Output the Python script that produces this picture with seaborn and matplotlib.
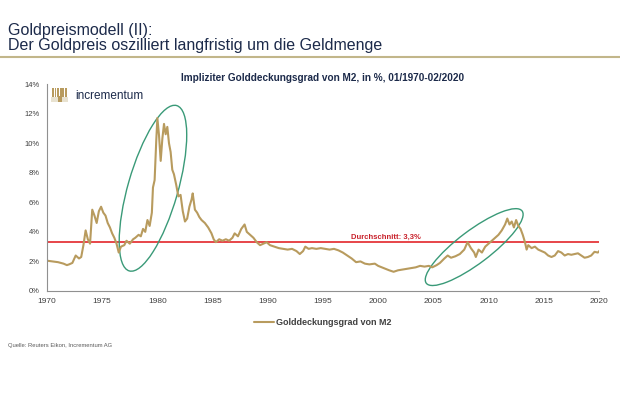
import numpy as np
import pandas as pd
import matplotlib
matplotlib.use("Agg")
import matplotlib.pyplot as plt
import matplotlib.transforms as mtransforms
from matplotlib.patches import Ellipse, Rectangle
import seaborn as sns

# Golddeckungsgrad von M2 (in %)
years = [1970.0, 1970.5, 1971.0, 1971.5, 1971.8, 1972.0, 1972.3, 1972.6, 1972.9, 1973.1,
         1973.3, 1973.5, 1973.7, 1973.9, 1974.0, 1974.1, 1974.3, 1974.5, 1974.7, 1974.9,
         1975.1, 1975.3, 1975.5, 1975.7, 1975.9, 1976.1, 1976.3, 1976.5, 1976.7, 1977.0,
         1977.2, 1977.5, 1977.8, 1978.0, 1978.3, 1978.5, 1978.7, 1978.9, 1979.1, 1979.3,
         1979.5, 1979.6, 1979.75, 1979.9, 1980.0, 1980.15, 1980.3, 1980.45, 1980.6, 1980.75,
         1980.9, 1981.05, 1981.2, 1981.35, 1981.5, 1981.7, 1981.9, 1982.1, 1982.3, 1982.5,
         1982.7, 1982.9, 1983.1, 1983.2, 1983.4, 1983.6, 1983.8, 1984.0, 1984.3, 1984.6,
         1984.9, 1985.1, 1985.3, 1985.6, 1985.9, 1986.2, 1986.5, 1986.8, 1987.0, 1987.3,
         1987.6, 1987.9, 1988.1, 1988.4, 1988.7, 1989.0, 1989.3, 1989.6, 1989.9, 1990.2,
         1990.6, 1991.0, 1991.4, 1991.8, 1992.2, 1992.6, 1992.9, 1993.2, 1993.4, 1993.7,
         1994.0, 1994.4, 1994.8, 1995.2, 1995.6, 1996.0, 1996.4, 1996.8, 1997.2, 1997.6,
         1998.0, 1998.4, 1998.8, 1999.2, 1999.7, 2000.0, 2000.5, 2001.0, 2001.4, 2001.8,
         2002.2, 2002.6, 2003.0, 2003.4, 2003.8, 2004.2, 2004.6, 2004.9, 2005.3, 2005.6,
         2006.0, 2006.3, 2006.6, 2007.0, 2007.4, 2007.8, 2008.1, 2008.4, 2008.7, 2008.85,
         2009.1, 2009.4, 2009.7, 2010.0, 2010.3, 2010.6, 2010.9, 2011.2, 2011.5, 2011.7,
         2011.9, 2012.1, 2012.3, 2012.5, 2012.7, 2012.9, 2013.1, 2013.3, 2013.45, 2013.6,
         2013.9, 2014.2, 2014.5, 2014.8, 2015.1, 2015.4, 2015.7, 2016.0, 2016.3, 2016.6,
         2016.9, 2017.2, 2017.5, 2017.8, 2018.1, 2018.4, 2018.7, 2019.0, 2019.3, 2019.6,
         2019.9, 2020.1]
coverage = [2.05, 2.0, 1.95, 1.85, 1.75, 1.8, 1.9, 2.4, 2.2, 2.3,
            3.1, 4.1, 3.5, 3.2, 4.4, 5.5, 5.1, 4.6, 5.4, 5.7,
            5.3, 5.1, 4.6, 4.3, 3.9, 3.6, 3.2, 2.6, 3.0, 3.1,
            3.4, 3.2, 3.5, 3.6, 3.8, 3.7, 4.2, 4.0, 4.8, 4.4,
            5.3, 7.0, 7.5, 10.2, 11.7, 10.5, 8.8, 10.3, 11.3, 10.6,
            11.1, 10.0, 9.4, 8.2, 7.9, 7.2, 6.4, 6.5, 5.4, 4.7,
            4.9, 5.7, 6.2, 6.6, 5.5, 5.3, 5.0, 4.8, 4.6, 4.3,
            3.9, 3.5, 3.3, 3.5, 3.4, 3.5, 3.4, 3.6, 3.9, 3.7,
            4.2, 4.5, 4.0, 3.8, 3.6, 3.3, 3.1, 3.2, 3.3, 3.1,
            3.0, 2.9, 2.85, 2.8, 2.85, 2.7, 2.5, 2.7, 3.0, 2.85,
            2.9, 2.85, 2.9, 2.85, 2.8, 2.85, 2.75, 2.6, 2.4, 2.2,
            1.95, 2.0, 1.85, 1.8, 1.85, 1.7, 1.55, 1.4, 1.3, 1.4,
            1.45, 1.5, 1.55, 1.6, 1.7, 1.65, 1.7, 1.6, 1.75, 1.9,
            2.2, 2.4, 2.25, 2.35, 2.5, 2.8, 3.3, 2.9, 2.6, 2.3,
            2.8, 2.6, 3.0, 3.2, 3.4, 3.6, 3.8, 4.1, 4.5, 4.9,
            4.5, 4.7, 4.3, 4.8, 4.4, 4.2, 3.8, 3.3, 2.8, 3.1,
            2.9, 3.0, 2.8, 2.7, 2.6, 2.4, 2.3, 2.4, 2.7, 2.6,
            2.4, 2.5, 2.45, 2.5, 2.55, 2.4, 2.25, 2.3, 2.4, 2.65,
            2.6, 2.75]
average = 3.3
x_ticks = [1970, 1975, 1980, 1985, 1990, 1995, 2000, 2005, 2010, 2015, 2020]
y_ticks = [0, 2, 4, 6, 8, 10, 12, 14]

df = pd.DataFrame({"Jahr": years, "Golddeckungsgrad von M2": coverage})

navy = "#1c2a4a"
gold = "#b89b5e"
red = "#e3262a"
green = "#3a9a78"
grey = "#5a5a5a"

sns.set_style("white")
plt.rcParams["font.family"] = ["Liberation Sans", "DejaVu Sans"]

fig = plt.figure(figsize=(6.2, 4.13), dpi=100)
ax = fig.add_axes([0.0758, 0.2954, 0.8902, 0.5012])

sns.lineplot(data=df, x="Jahr", y="Golddeckungsgrad von M2", ax=ax,
             color=gold, linewidth=1.5, label="Golddeckungsgrad von M2")
ax.axhline(average, color=red, linewidth=1.2, zorder=1)
ax.text(2000.7, average + 0.12, "Durchschnitt: 3,3%", color="#c8202a",
        fontsize=5.5, fontweight="bold", ha="center", va="bottom")

# green ellipses, sized in inches so the angle is not distorted
def ring(xc, yc, w, h, angle):
    tr = fig.dpi_scale_trans + mtransforms.ScaledTranslation(xc, yc, ax.transData)
    e = Ellipse((0, 0), w, h, angle=angle, fill=False, edgecolor=green,
                linewidth=1.0, transform=tr)
    ax.add_patch(e)

ring(1979.6, 6.95, 1.72, 0.5, 74)
ring(2008.7, 2.97, 1.2, 0.33, 37)

ax.set_xlim(1970, 2020)
ax.set_ylim(0, 14)
ax.set_xticks(x_ticks)
ax.set_yticks(y_ticks)
ax.set_yticklabels([f"{v}%" for v in y_ticks])
ax.set_xlabel("")
ax.set_ylabel("")
ax.tick_params(axis="both", labelsize=5.5, colors="#404040", length=3, width=0.6,
               direction="out", pad=2)
ax.tick_params(axis="x", labelsize=6)
for side in ["top", "right"]:
    ax.spines[side].set_visible(False)
for side in ["left", "bottom"]:
    ax.spines[side].set_color("#909090")
    ax.spines[side].set_linewidth(0.8)

leg = ax.legend(loc="upper center", bbox_to_anchor=(0.5, -0.09), frameon=False,
                fontsize=6.5, handlelength=2.2, handletextpad=0.3)
for t in leg.get_texts():
    t.set_fontweight("bold")
    t.set_color("#404040")

# header
fig.text(0.013, 0.944, "Goldpreismodell (II):\nDer Goldpreis oszilliert langfristig um die Geldmenge",
         color=navy, fontsize=11.5, ha="left", va="top", linespacing=1.0)
fig.add_artist(plt.Line2D([0, 1], [0.861, 0.861], color="#c2b68a", linewidth=1.5))
fig.text(0.521, 0.812, "Impliziter Golddeckungsgrad von M2, in %, 01/1970-02/2020",
         color=navy, fontsize=7.2, fontweight="bold", ha="center", va="center")

# logo: stylised tree icon + name
fig.add_artist(Rectangle((0.083, 0.752), 0.026, 0.012, transform=fig.transFigure,
                         facecolor="#e8e2d0", edgecolor="none"))
for i in range(6):
    fig.add_artist(Rectangle((0.084 + i * 0.0042, 0.766), 0.0026, 0.022,
                             transform=fig.transFigure, facecolor=gold, edgecolor="none"))
fig.add_artist(Rectangle((0.093, 0.752), 0.007, 0.016, transform=fig.transFigure,
                         facecolor=gold, edgecolor="none"))
fig.text(0.122, 0.768, "incrementum", color=navy, fontsize=8.5, ha="left", va="center")

fig.text(0.013, 0.163, "Quelle: Reuters Eikon, Incrementum AG", color=grey,
         fontsize=4.2, ha="left", va="center")

fig.savefig("out.png", dpi=100, facecolor="white")
